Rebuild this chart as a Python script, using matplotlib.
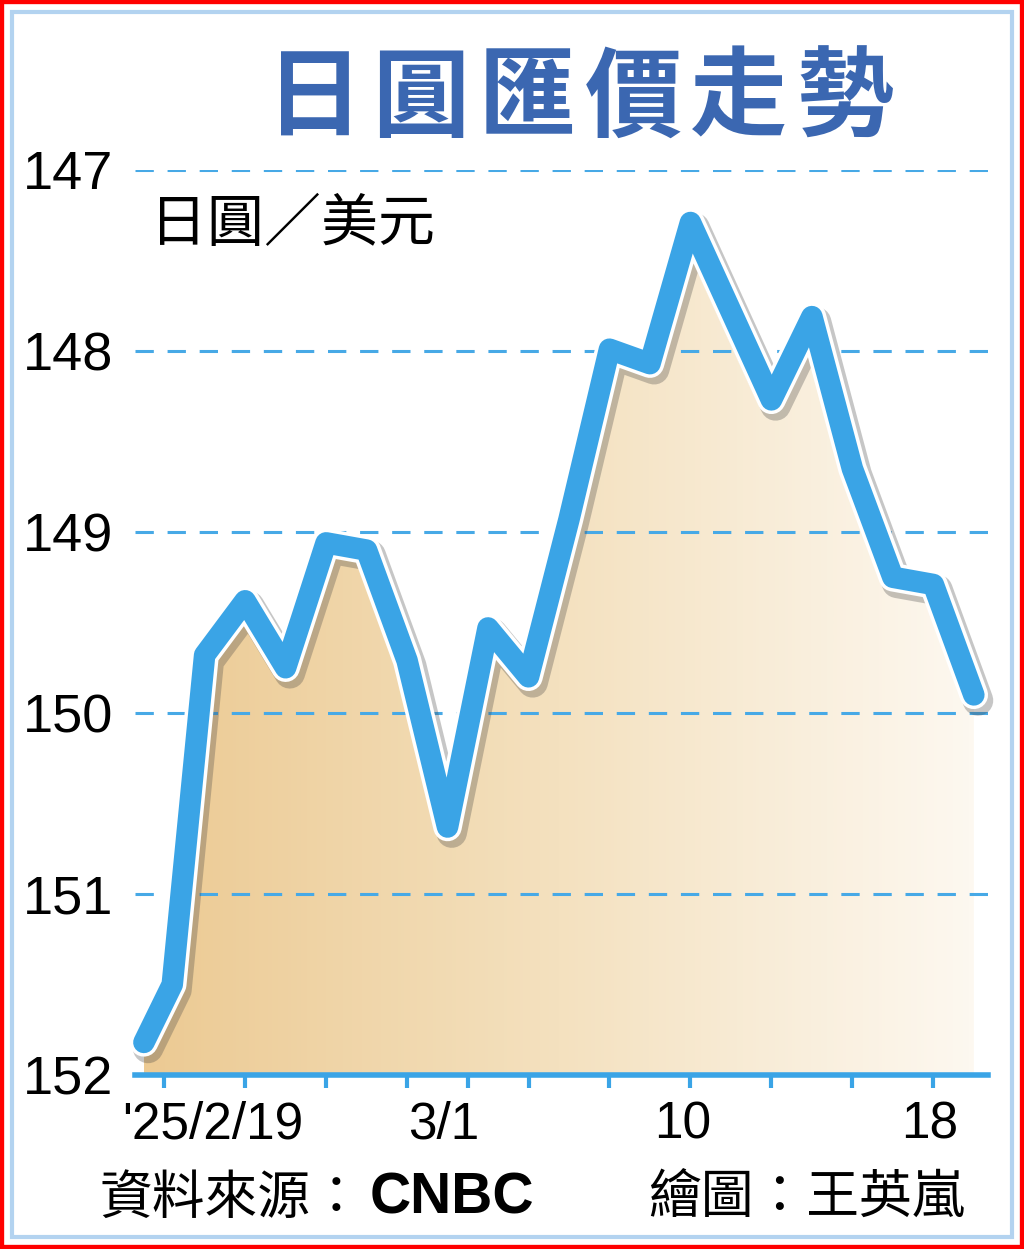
import numpy as np
import matplotlib.pyplot as plt
import matplotlib.patheffects as pe
from matplotlib.colors import LinearSegmentedColormap
from matplotlib.patches import Rectangle

plt.rcParams['font.family'] = ['Noto Sans CJK TC', 'DejaVu Sans']
NUM_FONT = ['Liberation Sans Narrow', 'Liberation Sans', 'DejaVu Sans']

# data (yen per dollar)
xpos = [-2.5, -1.8, -1.0, 0, 1, 2, 3, 4, 5, 6, 7, 8, 9, 10, 11,
        12, 13, 14, 15, 16, 17, 18]
rate = [151.82, 151.50, 149.68, 149.38, 149.75, 149.06, 149.10, 149.71,
        150.63, 149.53, 149.80, 148.93, 147.99, 148.07, 147.29, 147.78,
        148.27, 147.81, 148.65, 149.25, 149.29, 149.90]

tick_pos = [-2, 0, 2, 4, 5.5, 7, 9, 11, 13, 15, 17]
label_pos = [-0.8, 4.9, 10.8, 16.9]
label_txt = ["'25/2/19", "3/1", "10", "18"]
y_ticks = [147, 148, 149, 150, 151, 152]

title = '日圓匯價走勢'
blue = '#3aa4e6'

fig = plt.figure(figsize=(10.24, 12.49), dpi=100)
ax = fig.add_axes([135/1024, 1 - 1075/1249, (988 - 135)/1024, (1075 - 170)/1249])

# gradient fill under the line
poly = ax.fill_between(xpos, rate, 152, color='none', lw=0)
cmap = LinearSegmentedColormap.from_list('tan', ['#ecca93', '#f4e1bf', '#fdf8f0'])
grad = np.linspace(0, 1, 256).reshape(1, -1)
im = ax.imshow(grad, cmap=cmap, extent=[xpos[0], xpos[-1], 152, 147],
               aspect='auto', zorder=1, interpolation='bicubic')
im.set_clip_path(poly.get_paths()[0], transform=ax.transData)

# dashed grid
for v in y_ticks[:-1]:
    ax.axhline(v, color='#47a9e6', lw=2.2, dashes=(6, 4.5), zorder=2)

# the line
ax.plot(xpos, rate, color=blue, lw=15.5, solid_capstyle='round',
        solid_joinstyle='round', zorder=5, clip_on=False,
        path_effects=[pe.SimpleLineShadow(offset=(3, -4), shadow_color='#444444',
                                          alpha=0.3, linewidth=22),
                      pe.Stroke(linewidth=20.5, foreground='white'),
                      pe.Normal()])

ax.set_xlim(-2.72, 18.35)
ax.set_ylim(152, 147)

for s in ['top', 'right', 'left']:
    ax.spines[s].set_visible(False)
ax.spines['bottom'].set_color(blue)
ax.spines['bottom'].set_linewidth(4)
ax.spines['bottom'].set_zorder(6)

ax.set_xticks(tick_pos)
ax.set_xticklabels([])
ax.tick_params(axis='x', direction='out', length=9, width=3, color=blue)
ax.set_yticks(y_ticks)
ax.set_yticklabels([str(v) for v in y_ticks], family=NUM_FONT, fontsize=39)
ax.tick_params(axis='y', length=0, pad=16)

for xp, t in zip(label_pos, label_txt):
    ax.text(xp, -0.055, t, transform=ax.get_xaxis_transform(), ha='center',
            va='center', fontsize=37, family=NUM_FONT)

# title, one character at a time for the wide spacing
for i, ch in enumerate(title):
    fig.text((315 + i * 106)/1024, 1 - 100/1249, ch, fontsize=70, color='#3b67b1',
             fontweight='bold', ha='center', va='center')

fig.text(150/1024, 1 - 225/1249, '日圓／美元', fontsize=41, ha='left', va='center')
fig.text(100/1024, 1 - 1198/1249, '資料來源：', fontsize=38, ha='left', va='center')
fig.text(370/1024, 1 - 1198/1249, 'CNBC', fontsize=41, ha='left', va='center',
         family=['Liberation Sans', 'DejaVu Sans'], fontweight='bold')
fig.text(648/1024, 1 - 1198/1249, '繪圖：王英嵐', fontsize=38, ha='left', va='center')

# frames
fig.patches.append(Rectangle((12/1024, 12/1249), 1000/1024, 1225/1249,
                             transform=fig.transFigure, fill=False,
                             ec='#b3d3f0', lw=3))
fig.patches.append(Rectangle((0, 0), 1, 1, transform=fig.transFigure,
                             fill=False, ec='red', lw=6))

fig.savefig('out.png', dpi=100)
